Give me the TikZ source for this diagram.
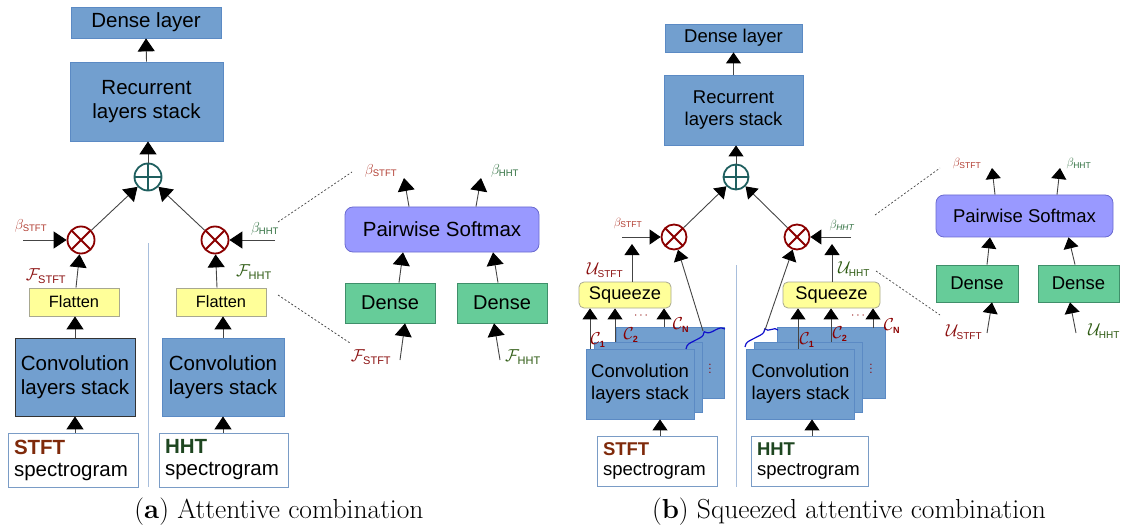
\documentclass[tikz,border=0pt]{standalone}
\usepackage{fontspec}
\setsansfont{Liberation Sans}
\usetikzlibrary{arrows.meta,decorations.pathreplacing,calc}
\definecolor{boxblue}{HTML}{729FCF}
\definecolor{boxblueb}{HTML}{5B8AC4}
\definecolor{flatyel}{HTML}{FFFF99}
\definecolor{flatyelb}{HTML}{A8A890}
\definecolor{softfill}{HTML}{9999FF}
\definecolor{softb}{HTML}{6A6AD0}
\definecolor{densegr}{HTML}{66CC99}
\definecolor{densegrb}{HTML}{3F8F6A}
\definecolor{specb}{HTML}{7A9CC6}
\definecolor{sepcol}{HTML}{A8BEDC}
\definecolor{plusteal}{HTML}{1F5F5F}
\definecolor{otred}{HTML}{8B0000}
\definecolor{bred}{HTML}{B03A2E}
\definecolor{fred}{HTML}{8B1010}
\definecolor{bgreen}{HTML}{2F6F3F}
\definecolor{fgreen}{HTML}{2D5A12}
\definecolor{stftcol}{HTML}{7F2A0B}
\definecolor{hhtcol}{HTML}{1E4620}
\definecolor{linecol}{HTML}{444444}
\definecolor{bracecol}{HTML}{1010CC}
\newcommand{\subsf}[2]{\mbox{\fontsize{#1}{#1}\selectfont\sffamily #2}}
\newcommand{\fsz}[1]{\fontsize{#1}{#1}\selectfont}
\begin{document}
\begin{tikzpicture}[x=1pt,y=-1pt,
  base/.style={inner sep=0pt, align=center, font=\sffamily},
  bluebox/.style={base, fill=boxblue, draw=boxblueb, line width=0.8pt},
  flatbox/.style={base, fill=flatyel, draw=flatyelb, line width=0.8pt},
  softbox/.style={base, fill=softfill, draw=softb, line width=0.8pt, rounded corners=8pt},
  densebox/.style={base, fill=densegr, draw=densegrb, line width=0.8pt},
  specbox/.style={base, fill=white, draw=specb, line width=0.8pt, align=left},
  arrA/.style={draw=linecol, line width=0.9pt, -{Triangle[width=17pt,length=13pt,color=black]}},
  arrB/.style={draw=linecol, line width=0.9pt, -{Triangle[width=15pt,length=11pt,color=black]}},
  dashln/.style={draw=linecol, line width=0.7pt, dash pattern=on 2pt off 2pt},
  sepln/.style={draw=sepcol, line width=1pt},
  otnode/.style={circle, draw=otred, line width=1.8pt, fill=white, inner sep=0pt,
    path picture={\draw[otred, line width=1.8pt] (path picture bounding box.north west) -- (path picture bounding box.south east)
      (path picture bounding box.north east) -- (path picture bounding box.south west);}},
  plusnode/.style={circle, draw=plusteal, line width=1.8pt, fill=white, inner sep=0pt,
    path picture={\draw[plusteal, line width=1.8pt] (path picture bounding box.north) -- (path picture bounding box.south)
      (path picture bounding box.east) -- (path picture bounding box.west);}},
  bracest/.style={draw=bracecol, line width=1.2pt, decorate},
  clabel/.style={text=otred, inner sep=0pt},
]
\useasboundingbox (0,0) rectangle (1123,529);

%%%%%%%%%%%%%%%% (a) %%%%%%%%%%%%%%%%
\node[bluebox, minimum width=150pt, minimum height=31pt, font=\sffamily\fsz{20.5}] (denseA) at (146,22.5) {Dense layer};
\node[bluebox, minimum width=153pt, minimum height=79pt, font=\sffamily\fontsize{20.5}{24}\selectfont] (recA) at (146.5,101.5) {Recurrent\\layers stack};
\node[plusnode, minimum size=27pt] (plusA) at (148,177) {};
\node[otnode, minimum size=27pt] (otA1) at (81,240) {};
\node[otnode, minimum size=27pt] (otA2) at (215,240) {};
\node[flatbox, minimum width=90pt, minimum height=28pt, font=\sffamily\fsz{16.4}] (flatA1) at (74,302) {Flatten};
\node[flatbox, minimum width=90pt, minimum height=28pt, font=\sffamily\fsz{16.4}] (flatA2) at (221,302) {Flatten};
\node[bluebox, draw=black!80, minimum width=120pt, minimum height=78pt, font=\sffamily\fontsize{20.5}{24}\selectfont] (convA1) at (75,377) {Convolution\\layers stack};
\node[bluebox, minimum width=122pt, minimum height=78pt, font=\sffamily\fontsize{20.5}{24}\selectfont] (convA2) at (223,377) {Convolution\\layers stack};
\node[specbox, minimum width=130pt, minimum height=54pt, text width=118pt, font=\sffamily\fontsize{20.5}{22}\selectfont] (specA1) at (73,460) {\textcolor{stftcol}{\textbf{STFT}}\\spectrogram};
\node[specbox, minimum width=129pt, minimum height=54pt, text width=117pt, font=\sffamily\fontsize{20.5}{22}\selectfont] (specA2) at (223.5,460) {\textcolor{hhtcol}{\textbf{HHT}}\\spectrogram};
\coordinate (sepAt) at (148,243);
\coordinate (sepAb) at (148,487);
\draw[sepln] (sepAt) -- (sepAb);

\draw[arrA] (recA.north) -- (denseA.south);
\draw[arrA] (plusA.north) -- (plusA.north |- recA.south);
\draw[arrA] (otA1) -- (plusA);
\draw[arrA] (otA2) -- (plusA);
\coordinate (bA1) at (23,240);
\coordinate (bA2) at (275,240);
\draw[arrA] (bA1) -- (otA1);
\draw[arrA] (bA2) -- (otA2);
\draw[arrA] ([xshift=2pt]flatA1.north) -- (otA1);
\draw[arrA] ([xshift=-4pt]flatA2.north) -- (otA2);
\draw[arrA] (convA1.north) -- (convA1.north |- flatA1.south);
\draw[arrA] (convA2.north) -- (convA2.north |- flatA2.south);
\draw[arrA] (specA1.north -| convA1.north) -- (convA1.south);
\draw[arrA] (specA2.north -| convA2.north) -- (convA2.south);

\node[text=bred, inner sep=0pt] (lbA1) at (31,226) {\fsz{14}$\beta_{\subsf{9.5}{STFT}}$};
\node[text=bgreen, inner sep=0pt] (lbA2) at (265,229) {\fsz{14}$\beta_{\subsf{9.5}{HHT}}$};
\node[text=fred, inner sep=0pt] (lfA1) at (46,276) {\fsz{17}$\mathcal{F}_{\subsf{11}{STFT}}$};
\node[text=fgreen, inner sep=0pt] (lfA2) at (254,272) {\fsz{17}$\mathcal{F}_{\subsf{11}{HHT}}$};

% zoom panel (a)
\node[softbox, minimum width=194pt, minimum height=45pt, font=\sffamily\fsz{20.5}] (softA) at (442,229.5) {Pairwise Softmax};
\node[densebox, minimum width=90pt, minimum height=40pt, font=\sffamily\fsz{20}] (dA1) at (390,303) {Dense};
\node[densebox, minimum width=90pt, minimum height=40pt, font=\sffamily\fsz{20}] (dA2) at (502,303) {Dense};
\coordinate (oA1) at (404,178);
\coordinate (oA2) at (481,178);
\coordinate (iA1) at (400,360);
\coordinate (iA2) at (500,360);
\draw[arrA] ([xshift=-33pt]softA.north) -- (oA1);
\draw[arrA] ([xshift=34pt]softA.north) -- (oA2);
\draw[arrA] ([xshift=9pt]dA1.north) -- ([xshift=-39pt]softA.south);
\draw[arrA] ([xshift=-4pt]dA2.north) -- ([xshift=51pt]softA.south);
\draw[arrA] (iA1) -- ([xshift=15pt]dA1.south);
\draw[arrA] (iA2) -- ([xshift=-8pt]dA2.south);
\node[text=bred, inner sep=0pt] (lbA3) at (381,171) {\fsz{14}$\beta_{\subsf{9.5}{STFT}}$};
\node[text=bgreen, inner sep=0pt] (lbA4) at (505,171) {\fsz{14}$\beta_{\subsf{9.5}{HHT}}$};
\node[text=fred, inner sep=0pt] (lfA3) at (371,357) {\fsz{17}$\mathcal{F}_{\subsf{11}{STFT}}$};
\node[text=fgreen, inner sep=0pt] (lfA4) at (523,357) {\fsz{17}$\mathcal{F}_{\subsf{11}{HHT}}$};
\coordinate (dA1s) at (278,222);
\coordinate (dA1e) at (352,172);
\coordinate (dA2s) at (278,295);
\coordinate (dA2e) at (350,343);
\draw[dashln] (dA1s) -- (dA1e);
\draw[dashln] (dA2s) -- (dA2e);

\node[inner sep=0pt, font=\fsz{27.5}] (capA) at (279,512) {(\textbf{a}) Attentive combination};

%%%%%%%%%%%%%%%% (b) %%%%%%%%%%%%%%%%
\node[bluebox, minimum width=137pt, minimum height=28pt, font=\sffamily\fsz{18.5}] (denseB) at (733.5,38) {Dense layer};
\node[bluebox, minimum width=139pt, minimum height=70pt, font=\sffamily\fontsize{18.5}{22}\selectfont] (recB) at (733.5,110) {Recurrent\\layers stack};
\node[plusnode, minimum size=25pt] (plusB) at (736,177) {};
\node[otnode, minimum size=25pt] (otB1) at (674,237) {};
\node[otnode, minimum size=25pt] (otB2) at (797,237) {};
\node[flatbox, rounded corners=5pt, minimum width=92pt, minimum height=26pt, font=\sffamily\fsz{18.3}] (sqB1) at (625,295) {Squeeze};
\node[flatbox, rounded corners=5pt, minimum width=97pt, minimum height=26pt, font=\sffamily\fsz{18.3}] (sqB2) at (831.5,295) {Squeeze};

\node[bluebox, minimum width=108pt, minimum height=71pt] (convB1c) at (670,363) {};
\node[bluebox, minimum width=108pt, minimum height=70pt] (convB1b) at (648,377) {};
\node[bluebox, minimum width=108pt, minimum height=70pt, font=\sffamily\fontsize{18.5}{22}\selectfont] (convB1) at (640,384) {Convolution\\layers stack};
\node[bluebox, minimum width=108pt, minimum height=71pt] (convB2c) at (831,363) {};
\node[bluebox, minimum width=108pt, minimum height=70pt] (convB2b) at (808,377) {};
\node[bluebox, minimum width=108pt, minimum height=70pt, font=\sffamily\fontsize{18.5}{22}\selectfont] (convB2) at (800.5,384) {Convolution\\layers stack};
\node[clabel] (vdB1) at (710,366) {\fsz{14}$\vdots$};
\node[clabel] (vdB2) at (871,366) {\fsz{14}$\vdots$};

\node[specbox, minimum width=120pt, minimum height=50pt, text width=108pt, font=\sffamily\fontsize{18.5}{20}\selectfont] (specB1) at (657,461) {\textcolor{stftcol}{\textbf{STFT}}\\spectrogram};
\node[specbox, minimum width=117pt, minimum height=50pt, text width=105pt, font=\sffamily\fontsize{18.5}{20}\selectfont] (specB2) at (809.5,461) {\textcolor{hhtcol}{\textbf{HHT}}\\spectrogram};
\coordinate (sepBt) at (736,265);
\coordinate (sepBb) at (736,487);
\draw[sepln] (sepBt) -- (sepBb);

\draw[arrB] (recB.north) -- (denseB.south);
\draw[arrB] (plusB.north) -- (plusB.north |- recB.south);
\draw[arrB] (otB1) -- (plusB);
\draw[arrB] (otB2) -- (plusB);
\coordinate (bB1) at (622,237);
\coordinate (bB2) at (851,237);
\draw[arrB] (bB1) -- (otB1);
\draw[arrB] (bB2) -- (otB2);
\coordinate (uB1) at (632,244);
\coordinate (uB2) at (832,244);
\draw[arrB] (uB1 |- sqB1.north) -- (uB1);
\draw[arrB] (uB2 |- sqB2.north) -- (uB2);
\draw[arrB] ([xshift=3pt]specB1.north) -- ([xshift=3pt]specB1.north |- convB1.south);
\draw[arrB] ([xshift=2.5pt]specB2.north) -- ([xshift=2.5pt]specB2.north |- convB2.south);

% channel arrows
\coordinate (c1L) at (590,349);
\coordinate (c2L) at (615,342);
\coordinate (cnL) at (664,327);
\coordinate (c1R) at (798,349);
\coordinate (c2R) at (831,342);
\coordinate (cnR) at (873,328);
\draw[arrB] (c1L) -- (c1L |- sqB1.south);
\draw[arrB] (c2L) -- (c2L |- sqB1.south);
\draw[arrB] (cnL) -- (cnL |- sqB1.south);
\draw[arrB] (c1R) -- (c1R |- sqB2.south);
\draw[arrB] (c2R) -- (c2R |- sqB2.south);
\draw[arrB] (cnR) -- (cnR |- sqB2.south);
\node[clabel] (lc1L) at (598,340) {\fsz{16}$\mathcal{C}_{\subsf{9}{\bfseries 1}}$};
\node[clabel] (lc2L) at (631,335) {\fsz{16}$\mathcal{C}_{\subsf{9}{\bfseries 2}}$};
\node[clabel] (ldL) at (641,316) {\fsz{13}$\cdots$};
\node[clabel] (lcnL) at (681,325) {\fsz{16}$\mathcal{C}_{\subsf{9}{\bfseries N}}$};
\node[clabel] (lc1R) at (807,340) {\fsz{16}$\mathcal{C}_{\subsf{9}{\bfseries 1}}$};
\node[clabel] (lc2R) at (840,334) {\fsz{16}$\mathcal{C}_{\subsf{9}{\bfseries 2}}$};
\node[clabel] (ldR) at (858,316) {\fsz{13}$\cdots$};
\node[clabel] (lcnR) at (892,326) {\fsz{16}$\mathcal{C}_{\subsf{9}{\bfseries N}}$};

% braces
\coordinate (brL1) at (686,349);
\coordinate (brL2) at (725,329);
\coordinate (brR1) at (745,347);
\coordinate (brR2) at (778,330);
\draw[bracest, decoration={brace, amplitude=7pt, aspect=0.55}] (brL1) -- (brL2);
\draw[bracest, decoration={brace, amplitude=7pt, aspect=0.7}] (brR1) -- (brR2);
\coordinate (brLt) at (703,331);
\coordinate (brRt) at (765,330);
\draw[arrB] (brLt) -- (otB1);
\draw[arrB] (brRt) -- (otB2);

\node[text=bred, inner sep=0pt] (lbB1) at (628,223) {\fsz{13}$\beta_{\subsf{8.5}{STFT}}$};
\node[text=bgreen, inner sep=0pt] (lbB2) at (842,226) {\fsz{13}$\beta_{\subsf{8.5}{\itshape HHT}}$};
\node[text=fred, inner sep=0pt] (luB1) at (605,270) {\fsz{18}$\mathcal{U}_{\subsf{10}{STFT}}$};
\node[text=fgreen, inner sep=0pt] (luB2) at (854,269) {\fsz{18}$\mathcal{U}_{\subsf{10}{HHT}}$};

% zoom panel (b)
\node[softbox, minimum width=177pt, minimum height=42pt, font=\sffamily\fsz{18.5}] (softB) at (1024.5,216) {Pairwise Softmax};
\node[densebox, minimum width=82pt, minimum height=37pt, font=\sffamily\fsz{18.5}] (dB1) at (977,283.5) {Dense};
\node[densebox, minimum width=81pt, minimum height=37pt, font=\sffamily\fsz{18.5}] (dB2) at (1078.5,283.5) {Dense};
\coordinate (oB1) at (992,168);
\coordinate (oB2) at (1060,168);
\coordinate (iB1) at (987,333);
\coordinate (iB2) at (1076,333);
\draw[arrB] ([xshift=-29.5pt]softB.north) -- (oB1);
\draw[arrB] ([xshift=32.5pt]softB.north) -- (oB2);
\draw[arrB] ([xshift=10pt]dB1.north) -- ([xshift=-34.5pt]softB.south);
\draw[arrB] ([xshift=-3.5pt]dB2.north) -- ([xshift=44pt]softB.south);
\draw[arrB] (iB1) -- ([xshift=15pt]dB1.south);
\draw[arrB] (iB2) -- ([xshift=-8.5pt]dB2.south);
\node[text=bred, inner sep=0pt] (lbB3) at (967,164) {\fsz{13}$\beta_{\subsf{8.5}{STFT}}$};
\node[text=bgreen, inner sep=0pt] (lbB4) at (1079,164) {\fsz{13}$\beta_{\subsf{8.5}{HHT}}$};
\node[text=fred, inner sep=0pt] (luB3) at (964,332) {\fsz{18}$\mathcal{U}_{\subsf{10}{STFT}}$};
\node[text=fgreen, inner sep=0pt] (luB4) at (1104,331) {\fsz{18}$\mathcal{U}_{\subsf{10}{HHT}}$};
\coordinate (dB1s) at (875,215);
\coordinate (dB1e) at (940,168);
\coordinate (dB2s) at (876,271);
\coordinate (dB2e) at (940,315);
\draw[dashln] (dB1s) -- (dB1e);
\draw[dashln] (dB2s) -- (dB2e);

\node[inner sep=0pt, font=\fsz{27.5}] (capB) at (849,512) {(\textbf{b}) Squeezed attentive combination};
\end{tikzpicture}
\end{document}
